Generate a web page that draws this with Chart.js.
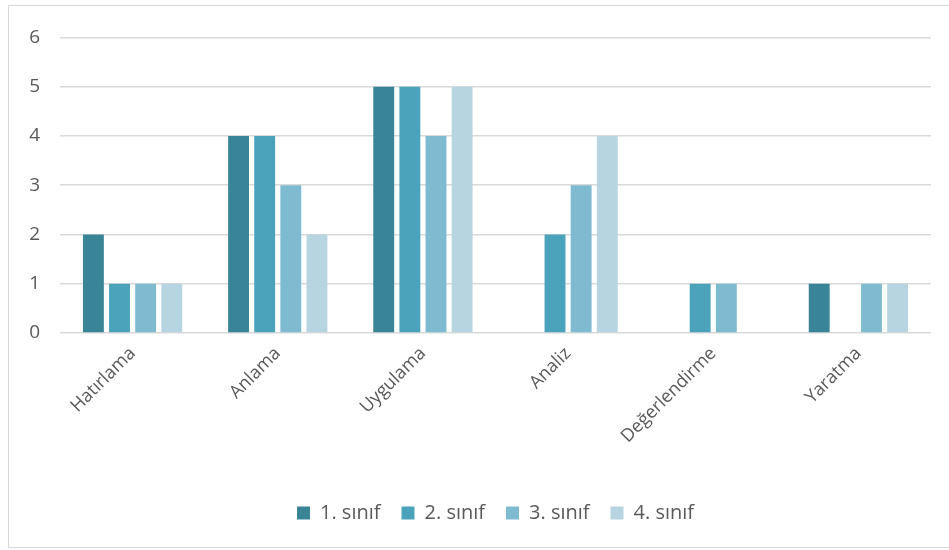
<!DOCTYPE html>
<html>
<head>
<meta charset="utf-8">
<script src="https://cdn.jsdelivr.net/npm/chart.js@4"></script>
<style>
  html, body { margin: 0; padding: 0; background: #fff; }
  #box {
    position: absolute; left: 8px; top: 5px;
    width: 945px; height: 541px;
    border: 1.5px solid #d9d9d9; border-right: none;
  }
</style>
</head>
<body>
<div id="box"><canvas id="chart" width="945" height="541"></canvas></div>
<script>
'use strict';

/*--- data ---*/
var categories = ['Hatırlama', 'Anlama', 'Uygulama', 'Analiz', 'Değerlendirme', 'Yaratma'];
var sinif1 = [2, 4, 5, 0, 0, 1];
var sinif2 = [1, 4, 5, 2, 1, 0];
var sinif3 = [1, 3, 4, 3, 1, 1];
var sinif4 = [1, 2, 5, 4, 0, 1];
var seriesNames = ['1. sınıf', '2. sınıf', '3. sınıf', '4. sınıf'];
var colors = ['#3a8497', '#4aa3bb', '#7fbbd0', '#b7d5e1'];
var yTicks = [0, 1, 2, 3, 4, 5, 6];

var textColor = '#595959';
var font = '"Open Sans", "Noto Sans", sans-serif';

var datasets = [sinif1, sinif2, sinif3, sinif4].map(function (d, i) {
  return {
    label: seriesNames[i],
    data: d,
    backgroundColor: colors[i],
    categoryPercentage: 0.72,
    barPercentage: 0.8
  };
});

new Chart(document.getElementById('chart'), {
  type: 'bar',
  data: { labels: categories, datasets: datasets },
  options: {
    responsive: false,
    animation: false,
    layout: { padding: { top: 20, right: 23, left: 0, bottom: 14 } },
    plugins: {
      tooltip: { enabled: false },
      legend: {
        position: 'bottom',
        fullSize: false,
        labels: {
          boxWidth: 13,
          boxHeight: 13,
          padding: 21,
          color: textColor,
          font: { family: font, size: 20 }
        }
      }
    },
    scales: {
      x: {
        grid: { display: false },
        border: { display: false },
        ticks: {
          color: textColor,
          font: { family: font, size: 18 },
          minRotation: 45,
          maxRotation: 45,
          padding: 2
        },
        afterFit: function (scale) { scale.height = 149; }
      },
      y: {
        min: 0,
        max: 6,
        afterBuildTicks: function (scale) {
          scale.ticks = yTicks.map(function (v) { return { value: v }; });
        },
        grid: { color: '#d9d9d9', lineWidth: 1.5, drawTicks: false },
        border: { display: false },
        ticks: {
          color: textColor,
          font: { family: font, size: 19 },
          padding: 20
        },
        afterFit: function (scale) { scale.width = 51; }
      }
    }
  }
});
</script>
</body>
</html>
